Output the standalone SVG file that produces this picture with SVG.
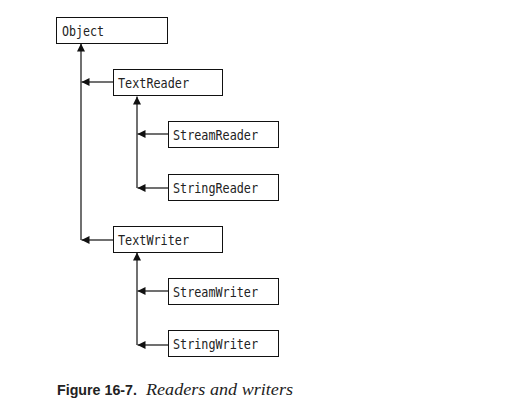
<svg xmlns="http://www.w3.org/2000/svg" width="532" height="415" viewBox="0 0 532 415">
<defs>
<marker id="ah" viewBox="0 0 10 10" refX="10" refY="5" markerWidth="8" markerHeight="8" markerUnits="userSpaceOnUse" orient="auto">
<path d="M0,0 L10,5 L0,10 z" fill="#111"/>
</marker>
<style>
.box{fill:#fff;stroke:#111;stroke-width:1}
.lbl{font-family:"DejaVu Sans Mono","Liberation Mono",monospace;font-size:13.5px;fill:#222}
.c{fill:none;stroke:#111;stroke-width:1.2}
</style>
</defs>
<rect width="532" height="415" fill="#fff"/>
<g id="connectors">
<path class="c" d="M81,240 V43.5" marker-end="url(#ah)"/>
<path class="c" d="M113,82 H81.5" marker-end="url(#ah)"/>
<path class="c" d="M113,240 H81.5" marker-end="url(#ah)"/>
<path class="c" d="M137,188 V96.5" marker-end="url(#ah)"/>
<path class="c" d="M168,134 H137.5" marker-end="url(#ah)"/>
<path class="c" d="M168,188 H137.5" marker-end="url(#ah)"/>
<path class="c" d="M137,345 V252.5" marker-end="url(#ah)"/>
<path class="c" d="M168,291 H137.5" marker-end="url(#ah)"/>
<path class="c" d="M168,345 H137.5" marker-end="url(#ah)"/>
</g>
<g id="Object"><rect class="box" x="56.5" y="17.5" width="111" height="26"/><text class="lbl" x="62" y="36" textLength="42" lengthAdjust="spacingAndGlyphs">Object</text></g>
<g id="TextReader"><rect class="box" x="113.5" y="69.5" width="109" height="26"/><text class="lbl" x="118" y="88" textLength="71" lengthAdjust="spacingAndGlyphs">TextReader</text></g>
<g id="StreamReader"><rect class="box" x="168.5" y="121.5" width="110" height="26"/><text class="lbl" x="173" y="140" textLength="85" lengthAdjust="spacingAndGlyphs">StreamReader</text></g>
<g id="StringReader"><rect class="box" x="168.5" y="174.5" width="110" height="26"/><text class="lbl" x="173" y="193" textLength="85" lengthAdjust="spacingAndGlyphs">StringReader</text></g>
<g id="TextWriter"><rect class="box" x="113.5" y="226.5" width="109" height="26"/><text class="lbl" x="118" y="245" textLength="71" lengthAdjust="spacingAndGlyphs">TextWriter</text></g>
<g id="StreamWriter"><rect class="box" x="168.5" y="278.5" width="110" height="26"/><text class="lbl" x="173" y="297" textLength="85" lengthAdjust="spacingAndGlyphs">StreamWriter</text></g>
<g id="StringWriter"><rect class="box" x="168.5" y="330.5" width="110" height="26"/><text class="lbl" x="173" y="349" textLength="85" lengthAdjust="spacingAndGlyphs">StringWriter</text></g>
<g id="caption">
<text x="57" y="395" font-family="Liberation Sans, Arial, sans-serif" font-weight="bold" font-size="15" fill="#222" textLength="80" lengthAdjust="spacingAndGlyphs">Figure 16-7.</text>
<text x="146" y="395" font-family="Liberation Serif, Times New Roman, serif" font-style="italic" font-size="17" fill="#222" textLength="147" lengthAdjust="spacingAndGlyphs">Readers and writers</text>
</g>
</svg>
